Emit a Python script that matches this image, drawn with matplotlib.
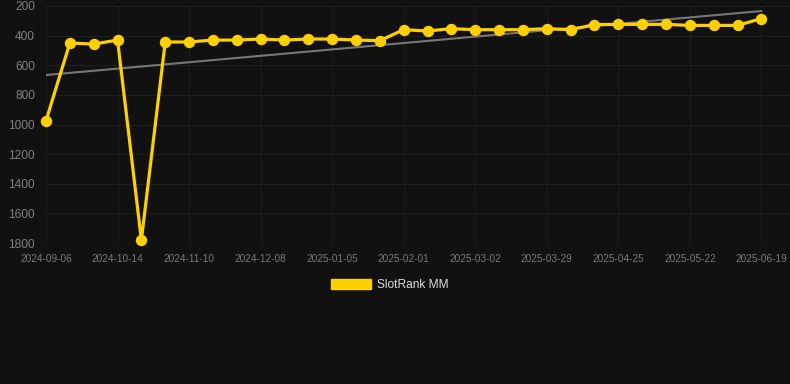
import numpy as np
import matplotlib.pyplot as plt
from matplotlib.patches import Patch

plt.rcParams['font.family'] = ['Liberation Sans', 'DejaVu Sans']

# data (rank values)
ranks = [975, 450, 457, 430, 1780, 443, 443, 430, 430, 423, 430, 423, 423, 430, 434,
         360, 369, 353, 360, 360, 360, 353, 360, 326, 324, 324, 324, 331, 331, 331, 285]
tick_labels = ['2024-09-06', '2024-10-14', '2024-11-10', '2024-12-08', '2025-01-05',
               '2025-02-01', '2025-03-02', '2025-03-29', '2025-04-25', '2025-05-22',
               '2025-06-19']
trend_ends = [666, 234]
series_name = 'SlotRank MM'

bg = '#111111'
gold = '#FFD000'

fig = plt.figure(figsize=(7.9, 3.84), dpi=100, facecolor=bg)
ax = fig.add_axes([46/790, 1-243/384, 1-46/790, (243-6)/384])
ax.set_facecolor(bg)

x = np.arange(len(ranks))
ax.plot([x[0], x[-1]], trend_ends, color='#777777', lw=1.5, zorder=2)
ax.plot(x, ranks, color=gold, lw=2.3, marker='o', ms=7.2, zorder=3, clip_on=False)

ax.set_xlim(0, 31.2)
ax.set_ylim(1800, 200)
ax.set_yticks(np.arange(200, 1801, 200))
ax.set_xticks(np.arange(0, len(ranks), 3))
ax.set_xticklabels(tick_labels)

ax.grid(True, color='#1e1e1e', lw=0.8)
ax.set_axisbelow(True)
for s in ax.spines.values():
    s.set_visible(False)
ax.tick_params(axis='y', length=0, pad=8, labelsize=8.6, labelcolor='#808080')
ax.tick_params(axis='x', length=0, pad=8, labelsize=7.2, labelcolor='#7a7a7a')

fig.legend(handles=[Patch(facecolor=gold, edgecolor=gold)], labels=[series_name],
           loc='center', bbox_to_anchor=(390/790, 1-285/384), frameon=False,
           handlelength=3.3, handleheight=0.9, handletextpad=0.5,
           fontsize=8.6, labelcolor='#dddddd')

fig.savefig('out.png', dpi=100, facecolor=bg)
